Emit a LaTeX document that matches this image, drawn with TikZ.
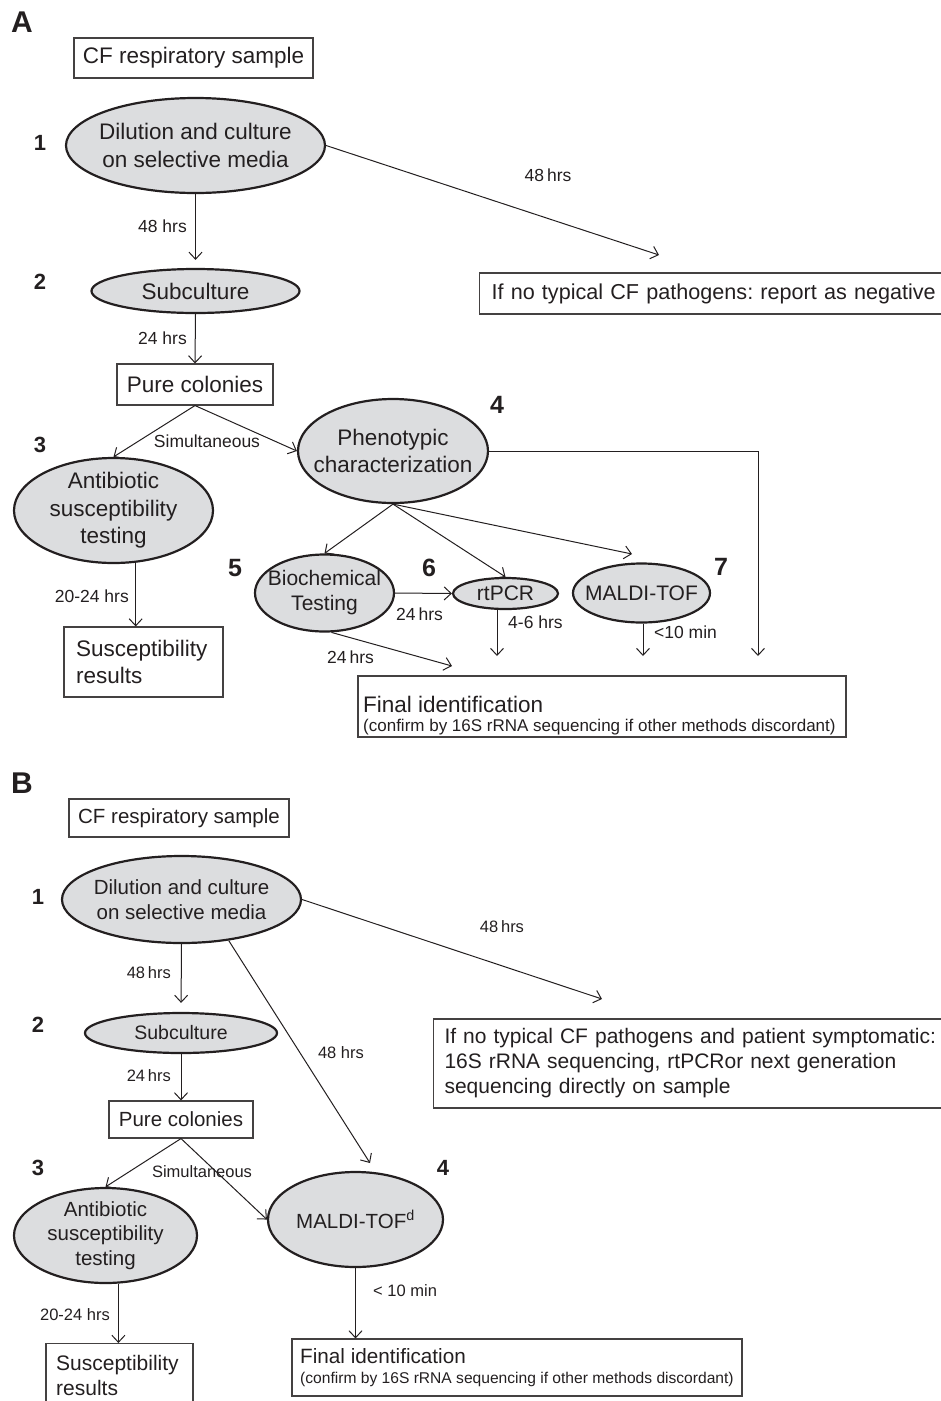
\documentclass[tikz,border=0pt]{standalone}
\usepackage{fontspec}
\setmainfont{Liberation Sans}
\usetikzlibrary{arrows.meta,shapes.geometric}
\definecolor{elfill}{RGB}{220,221,223}
\definecolor{ink}{RGB}{35,31,32}
\newcommand{\fsz}[2]{\fontsize{#1pt}{#2pt}\selectfont}
\begin{document}
\frenchspacing
\begin{tikzpicture}[x=1pt,y=-1pt,
  ell/.style={ellipse, draw=ink, line width=2.2pt, fill=elfill, inner sep=0pt},
  box/.style={rectangle, draw=ink!85, line width=1.1pt, inner sep=0pt},
  arr/.style={draw=ink, line width=1pt, -{Straight Barb[length=7pt,width=13pt,line width=1pt]}},
  ta/.style={text=ink, inner sep=0pt, align=center, font=\fsz{22.5}{27.5}},
  tm/.style={text=ink, inner sep=0pt, align=center, font=\fsz{21}{25}},
  tb/.style={text=ink, inner sep=0pt, align=center, font=\fsz{20.5}{24.5}},
  la/.style={text=ink, inner sep=0pt, font=\fsz{17.5}{20}},
  lb/.style={text=ink, inner sep=0pt, font=\fsz{16.5}{19}},
  num/.style={text=ink, inner sep=0pt, font=\bfseries\fsz{22}{24}},
  numl/.style={text=ink, inner sep=0pt, font=\bfseries\fsz{25}{27}},
  pan/.style={text=ink, inner sep=0pt, font=\bfseries\fsz{30}{32}}]
\useasboundingbox (0,0) rectangle (941,1401);

% ================= Panel A =================
\node[pan] (PA) at (22,22) {A};
\node[box, ta, minimum width=239pt, minimum height=40pt] (cfa) at (193.5,58) {CF respiratory sample};

\node[num] (n1a) at (40,143) {1};
\node[ell, minimum width=259pt, minimum height=95pt] (e1a) at (195.5,145.5) {};
\node[ta] (e1at) at (e1a) {Dilution and culture\\on selective media};

\node[box, ta, font=\fsz{21.6}{26}, anchor=west, minimum height=41pt, text width=470pt, inner xsep=12pt, align=left] (nega) at (479,293.5) {If no typical CF pathogens: report as negative};

\node[num] (n2a) at (40,282) {2};
\node[ell, minimum width=208pt, minimum height=44pt] (sua) at (195.5,291) {};
\node[ta] (suat) at (sua) {Subculture};

\node[box, ta, minimum width=156pt, minimum height=41pt] (pca) at (195,384.5) {Pure colonies};

\node[num] (n3a) at (40,445) {3};
\node[ell, minimum width=199pt, minimum height=105pt] (aba) at (113.5,510.5) {};
\node[ta] (abat) at (aba) {Antibiotic\\susceptibility\\testing};

\node[numl] (n4a) at (497,405) {4};
\node[ell, minimum width=190pt, minimum height=104pt] (pha) at (393,451) {};
\node[ta] (phat) at (pha) {Phenotypic\\characterization};

\node[box, minimum width=159pt, minimum height=70pt] (ssa) at (143.5,662) {};
\node[ta, anchor=west, align=left] (ssat) at (76,662) {Susceptibility\\results};

\node[numl] (n5a) at (235,568) {5};
\node[ell, minimum width=139pt, minimum height=77pt] (bia) at (324.5,593) {};
\node[tm] (biat) at (bia) {Biochemical\\Testing};

\node[numl] (n6a) at (429,568) {6};
\node[ell, minimum width=105pt, minimum height=31pt] (rta) at (505.5,593.5) {};
\node[tm] (rtat) at (rta) {rtPCR};

\node[numl] (n7a) at (721,567) {7};
\node[ell, minimum width=137pt, minimum height=59pt] (maa) at (641.5,593) {};
\node[tm] (maat) at (maa) {MALDI-TOF};

\node[box, minimum width=488pt, minimum height=61pt] (fia) at (602,706.5) {};
\node[ta, anchor=west] (fiat1) at (363,704) {Final identification};
\node[text=ink, inner sep=0pt, font=\fsz{17}{20}, anchor=west] (fiat2) at (363,727) {(confirm by 16S rRNA sequencing if other methods discordant)};

% labels A
\node[la, anchor=east] (l1) at (187,226) {48 hrs};
\node[la] (l2) at (548,175) {48\,hrs};
\node[la, anchor=east] (l3) at (187,338) {24 hrs};
\node[la] (l4) at (207,441) {Simultaneous};
\node[la, anchor=east] (l5) at (129,596) {20-24 hrs};
\node[la] (l6) at (419.5,614) {24\,hrs};
\node[la] (l7) at (350.5,657) {24\,hrs};
\node[la, anchor=west] (l8) at (508,622) {4-6 hrs};
\node[la, anchor=west] (l9) at (654,632) {<10 min};

% connectors A
\coordinate (cA1) at (659,255);
\coordinate (cA2) at (758,656);
\coordinate (cA3) at (632,554);
\coordinate (cA4) at (452,666);
\coordinate (cA5) at (497,656);
\coordinate (cA6) at (643,656);
\draw[arr] (e1a.east) -- (cA1);
\draw[arr, shorten >=8pt] (e1a.south) -- (sua.north);
\draw[arr] (sua.south) -- (pca.north);
\draw[arr] (pca.south) -- (aba.north);
\draw[arr] (pca.south) -- (pha.west);
\draw[arr] (pha.east) -| (cA2);
\draw[arr] (aba.-67) -- (aba.-67 |- ssa.north);
\draw[arr] (pha.south) -- (bia.north);
\draw[arr] (pha.south) -- (rta.north);
\draw[arr] (pha.south) -- (cA3);
\draw[arr] (bia.east) -- (rta.west);
\draw[arr] (bia.-80) -- (cA4);
\draw[arr] (rta.south -| cA5) -- (cA5);
\draw[arr] (maa.south -| cA6) -- (cA6);

% ================= Panel B =================
\node[pan] (PB) at (22,783) {B};
\node[box, tb, minimum width=220pt, minimum height=38pt] (cfb) at (179,818) {CF respiratory sample};

\node[num] (n1b) at (38,897) {1};
\node[ell, minimum width=239pt, minimum height=87pt] (e1b) at (181.5,899.5) {};
\node[tb] (e1bt) at (e1b) {Dilution and culture\\on selective media};

\node[num] (n2b) at (38,1025) {2};
\node[ell, minimum width=192pt, minimum height=40pt] (sub) at (181,1033) {};
\node[tb, font=\fsz{19.5}{23}] (subt) at (sub) {Subculture};

\node[box, tb, minimum width=144pt, minimum height=37pt] (pcb) at (181,1119.5) {Pure colonies};

\node[box, anchor=west, minimum height=89pt, text width=500pt, inner xsep=11pt, text=ink, align=left, font=\fsz{21}{25}] (negb) at (433,1063.5) {If no typical CF pathogens and patient symptomatic:\\16S rRNA sequencing, rtPCRor next generation\\sequencing directly on sample};

\node[num] (n3b) at (38,1168) {3};
\node[ell, minimum width=183pt, minimum height=95pt] (abb) at (105.5,1235.5) {};
\node[tb] (abbt) at (abb) {Antibiotic\\susceptibility\\testing};

\node[num] (n4b) at (443,1168) {4};
\node[ell, minimum width=175pt, minimum height=95pt] (mab) at (355.5,1219.5) {};
\node[tb] (mabt) at (mab) {MALDI-TOF\textsuperscript{d}};

\node[box, anchor=north, minimum width=147pt, minimum height=72pt] (ssb) at (119.5,1343) {};
\node[tb, anchor=west, align=left, font=\fsz{21}{25}] (ssbt) at (56,1375.5) {Susceptibility\\results};

\node[box, minimum width=450pt, minimum height=57pt] (fib) at (517,1367.5) {};
\node[text=ink, inner sep=0pt, font=\fsz{20.7}{24}, anchor=west] (fibt1) at (300,1356) {Final identification};
\node[text=ink, inner sep=0pt, font=\fsz{15.6}{18}, anchor=west] (fibt2) at (300,1379) {(confirm by 16S rRNA sequencing if other methods discordant)};

% labels B
\node[lb, anchor=east] (m1) at (171,973) {48\,hrs};
\node[lb, anchor=east] (m2) at (171,1076) {24\,hrs};
\node[lb] (m3) at (341,1053) {48 hrs};
\node[lb] (m4) at (502,927) {48\,hrs};
\node[lb] (m5) at (202,1172) {Simultaneous};
\node[lb, anchor=east] (m6) at (110,1315) {20-24 hrs};
\node[lb, anchor=west] (m7) at (373,1291) {< 10 min};

% connectors B
\coordinate (cB1) at (602,999);
\coordinate (cB2) at (370,1163);
\draw[arr, shorten >=9pt] (e1b.south) -- (sub.north);
\draw[arr] (sub.south) -- (pcb.north);
\draw[arr] (e1b.east) -- (cB1);
\draw[arr] (e1b.-41) -- (cB2);
\draw[arr] (pcb.south) -- (abb.north);
\draw[arr] (pcb.south) -- (mab.west);
\draw[arr] (abb.-75) -- (abb.-75 |- ssb.north);
\draw[arr] (mab.south) -- (mab.south |- fib.north);
\end{tikzpicture}
\end{document}
